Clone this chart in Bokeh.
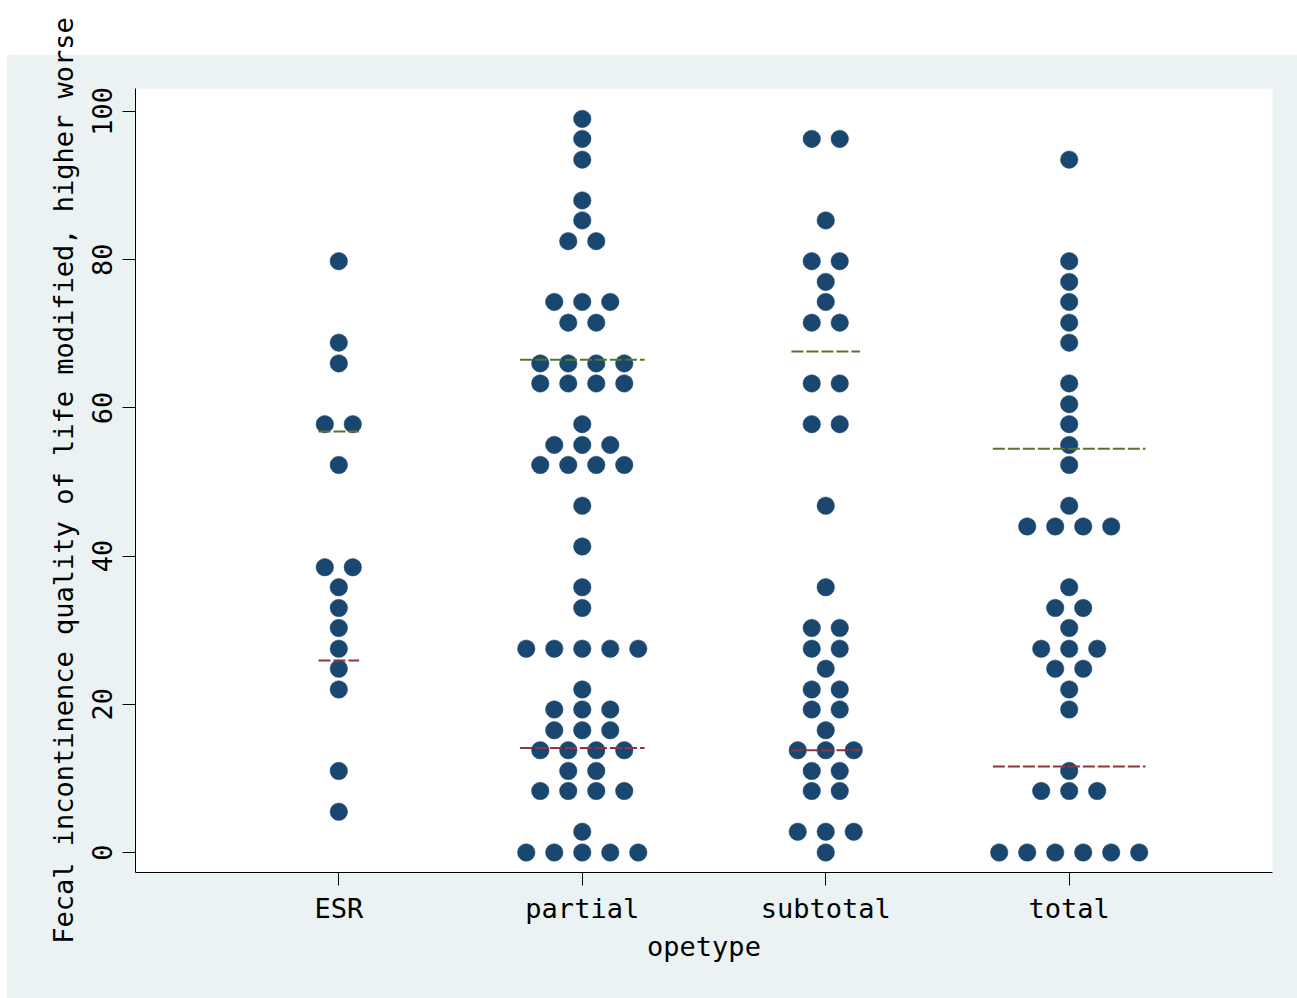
from bokeh.plotting import figure
from bokeh.models import FixedTicker, Range1d, ColumnDataSource
from bokeh.embed import file_html
from bokeh.resources import INLINE

# ---------------- data ----------------
categories = ["ESR", "partial", "subtotal", "total"]

esr_scores = [79.8, 68.8, 66.0, 57.8, 52.3, 38.5, 35.8, 33.0, 30.3, 27.5, 24.8, 22.0, 11.0, 5.5]
esr_counts = [1, 1, 1, 2, 1, 2, 1, 1, 1, 1, 1, 1, 1, 1]

partial_scores = [99.0, 96.3, 93.5, 88.0, 85.3, 82.5, 74.3, 71.5, 66.0, 63.3, 57.8, 55.0, 52.3,
                  46.8, 41.3, 35.8, 33.0, 27.5, 22.0, 19.3, 16.5, 13.8, 11.0, 8.3, 2.8, 0.0]
partial_counts = [1, 1, 1, 1, 1, 2, 3, 2, 4, 4, 1, 3, 4, 1, 1, 1, 1, 5, 1, 3, 3, 4, 2, 4, 1, 5]

subtotal_scores = [96.3, 85.3, 79.8, 77.0, 74.3, 71.5, 63.3, 57.8, 46.8, 35.8, 30.3, 27.5, 24.8,
                   22.0, 19.3, 16.5, 13.8, 11.0, 8.3, 2.8, 0.0]
subtotal_counts = [2, 1, 2, 1, 1, 2, 2, 2, 1, 1, 2, 2, 1, 2, 2, 1, 3, 2, 2, 3, 1]

total_scores = [93.5, 79.8, 77.0, 74.3, 71.5, 68.8, 63.3, 60.5, 57.8, 55.0, 52.3, 46.8, 44.0,
                35.8, 33.0, 30.3, 27.5, 24.8, 22.0, 19.3, 11.0, 8.3, 0.0]
total_counts = [1, 1, 1, 1, 1, 1, 1, 1, 1, 1, 1, 1, 4, 1, 2, 1, 3, 2, 1, 1, 1, 3, 6]

lower_line = [25.9, 14.1, 13.8, 11.6]   # maroon dashed lines
upper_line = [56.8, 66.5, 67.6, 54.5]   # green dashed lines

y_ticks = [0, 20, 40, 60, 80, 100]

# ---------------- styling ----------------
FONT = "DejaVu Sans Mono"
FS = "27px"
DOT = "#1a476f"
RED = "#90353b"
GREEN = "#55752f"
BG = "#eaf2f3"
SPACING = 0.115      # horizontal spacing between stacked dots (data units)
EXTRA = 0.026

groups = [(esr_scores, esr_counts), (partial_scores, partial_counts),
          (subtotal_scores, subtotal_counts), (total_scores, total_counts)]

xs, ys = [], []
lx0, lx1 = [], []
for gi, (scores, counts) in enumerate(groups):
    pos = gi + 1
    for s, n in zip(scores, counts):
        for i in range(n):
            xs.append(pos + (i - (n - 1) / 2) * SPACING)
            ys.append(s)
    half = (max(counts) - 1) / 2 * SPACING + EXTRA
    lx0.append(pos - half)
    lx1.append(pos + half)

W, H = 1297, 998
p = figure(width=W, height=H, output_backend="svg", toolbar_location=None,
           x_range=Range1d(0.165, 4.835), y_range=Range1d(-2.7, 103.1),
           min_border_left=135, min_border_right=25, min_border_top=88, min_border_bottom=126)
p.border_fill_alpha = 0
p.background_fill_color = "white"
p.outline_line_color = None
p.grid.visible = False
p.styles = {"background": "linear-gradient(to right, #ffffff 7px, rgba(255,255,255,0) 7px), "
                          "linear-gradient(to bottom, #ffffff 55px, " + BG + " 55px)"}

p.scatter(xs, ys, marker="circle", size=17.5, fill_color=DOT, line_color=DOT, line_width=0.5)

src = ColumnDataSource(dict(x0=lx0, x1=lx1, lo=lower_line, hi=upper_line))
p.segment(x0="x0", x1="x1", y0="lo", y1="lo", source=src, line_color=RED, line_width=2, line_dash="12 3")
p.segment(x0="x0", x1="x1", y0="hi", y1="hi", source=src, line_color=GREEN, line_width=2, line_dash="12 3")

# axes
p.xaxis.ticker = FixedTicker(ticks=[1, 2, 3, 4])
p.xaxis.major_label_overrides = {i + 1: c for i, c in enumerate(categories)}
p.yaxis.ticker = FixedTicker(ticks=y_ticks)
p.yaxis.major_label_orientation = "vertical"
for ax in (p.xaxis[0], p.yaxis[0]):
    ax.minor_tick_line_color = None
    ax.major_tick_out = 13
    ax.major_tick_in = 0
    ax.axis_line_color = "black"
    ax.major_tick_line_color = "black"
    ax.major_label_text_font = FONT
    ax.major_label_text_font_size = FS
    ax.major_label_text_color = "black"
    ax.axis_label_text_font = FONT
    ax.axis_label_text_font_size = FS
    ax.axis_label_text_font_style = "normal"
    ax.axis_label_text_color = "black"
p.xaxis.major_label_standoff = 7
p.yaxis.major_label_standoff = 10
p.xaxis.axis_label = "opetype"
p.yaxis.axis_label = "Fecal incontinence quality of life modified, higher worse"
p.xaxis.axis_label_standoff = 4
p.yaxis.axis_label_standoff = 11

open("out.html", "w").write(file_html(p, INLINE))
